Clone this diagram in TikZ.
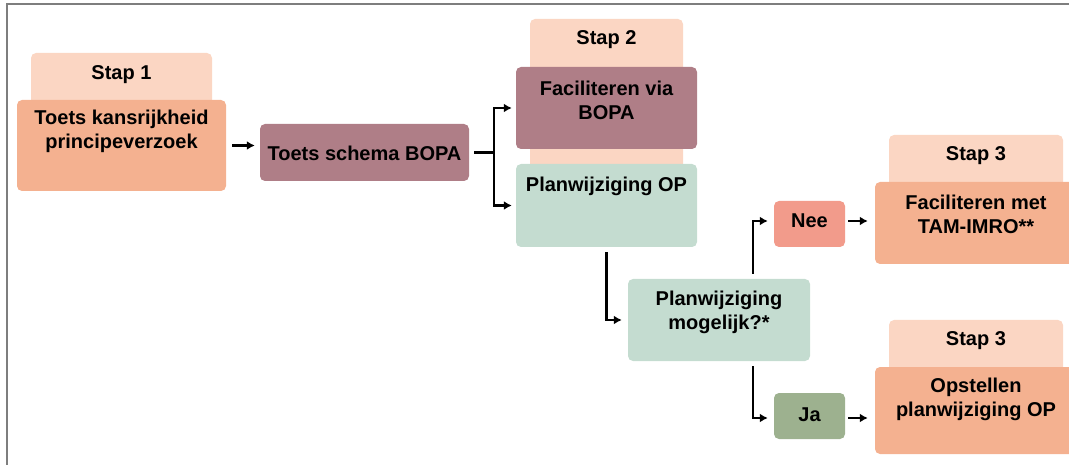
\documentclass[tikz,border=0pt]{standalone}
\usepackage{fontspec}
\setmainfont{Liberation Sans}
\usetikzlibrary{arrows.meta}

\definecolor{tabpeach}{HTML}{FBD6C3}
\definecolor{steporange}{HTML}{F4B190}
\definecolor{bopamauve}{HTML}{AF7E87}
\definecolor{opsage}{HTML}{C4DCD0}
\definecolor{neesalmon}{HTML}{F29B8B}
\definecolor{jagreen}{HTML}{9DB18F}
\definecolor{framegray}{HTML}{7E7E7E}

\begin{document}
\begin{tikzpicture}[x=1pt,y=-1pt,
  box/.style={rounded corners=5pt, inner sep=0pt},
  txt/.style={align=center, font=\bfseries\fontsize{20}{24}\selectfont, text=black},
  arr/.style={line width=2.2pt, -{Latex[length=8pt,width=9pt]}}]
\useasboundingbox (0,0) rectangle (1069,465);
\path[draw, framegray, line width=2.6pt] (7,470) -- (7,4) -- (1075,4);

% tabs
\node[box, fill=tabpeach, minimum width=181pt, minimum height=57pt] (tab1) at (121.5,81.5) {};
\node[box, fill=tabpeach, minimum width=153pt, minimum height=156pt] (tab2) at (606.5,97) {};
\node[box, fill=tabpeach, minimum width=174pt, minimum height=55pt] (tab3a) at (976,162.5) {};
\node[box, fill=tabpeach, minimum width=174pt, minimum height=55pt] (tab3b) at (976,347.5) {};

% boxes
\node[box, fill=steporange, minimum width=209pt, minimum height=91pt] (kans) at (121.5,145.5) {};
\node[box, fill=bopamauve, minimum width=209pt, minimum height=57pt] (bopa) at (364.5,152.5) {};
\node[box, fill=bopamauve, minimum width=181pt, minimum height=82pt] (facbopa) at (606.5,108) {};
\node[box, fill=opsage, minimum width=181pt, minimum height=83pt] (planop) at (606.5,205.5) {};
\node[box, fill=opsage, minimum width=182pt, minimum height=82pt] (mog) at (719,320) {};
\node[box, fill=neesalmon, minimum width=71pt, minimum height=46pt] (nee) at (809.5,224) {};
\node[box, fill=jagreen, minimum width=71pt, minimum height=46pt] (ja) at (809.5,416) {};
\node[box, fill=steporange, minimum width=202pt, minimum height=82pt] (tam) at (976,223) {};
\node[box, fill=steporange, minimum width=202pt, minimum height=87pt] (ops) at (976,410.5) {};

% texts
\node[txt] (stap1) at (121.5,75) {Stap 1};
\node[txt] (stap2) at (606.5,40) {Stap 2};
\node[txt] (stap3a) at (976,156) {Stap 3};
\node[txt] (stap3b) at (976,341) {Stap 3};
\node[txt] (kanstxt) at (121.5,131) {Toets kansrijkheid\\principeverzoek};
\node[txt] (bopatxt) at (364.5,153) {Toets schema BOPA};
\node[txt] (facbopatxt) at (606.5,100) {Faciliteren via\\BOPA};
\node[txt] (planoptxt) at (606.5,186) {Planwijziging OP};
\node[txt] (mogtxt) at (719,312) {Planwijziging\\mogelijk?*};
\node[txt] (neetxt) at (809.5,221) {Nee};
\node[txt] (jatxt) at (809.5,415) {Ja};
\node[txt] (tamtxt) at (976,214) {Faciliteren met\\TAM-IMRO**};
\node[txt] (opstxt) at (976,399) {Opstellen\\planwijziging OP};

% connectors
\coordinate (split) at (494,152.5);
\path[draw, arr, shorten <=6pt, shorten >=5pt] (kans.east) -- (kans.east -| bopa.west);
\path[draw, line width=2.2pt, shorten <=5pt] (bopa.east) -- (split);
\path[draw, arr, shorten >=4pt] (split) |- (facbopa.west);
\path[draw, arr, shorten >=4pt] (split) |- (planop.west);
\path[draw, arr, shorten <=5pt, shorten >=6pt] (planop.south) |- (mog.west);
\path[draw, arr, shorten <=5pt, shorten >=6pt] ([xshift=34pt]mog.north) |- ([yshift=3pt]nee.west);
\path[draw, arr, shorten <=5pt, shorten >=6pt] ([xshift=34pt]mog.south) |- ([yshift=-2pt]ja.west);
\path[draw, arr, shorten <=3pt, shorten >=7pt] ([yshift=3pt]nee.east) -- ([yshift=3pt]nee.east -| tam.west);
\path[draw, arr, shorten <=3pt, shorten >=7pt] ([yshift=-2pt]ja.east) -- ([yshift=-2pt]ja.east -| ops.west);
\end{tikzpicture}
\end{document}
